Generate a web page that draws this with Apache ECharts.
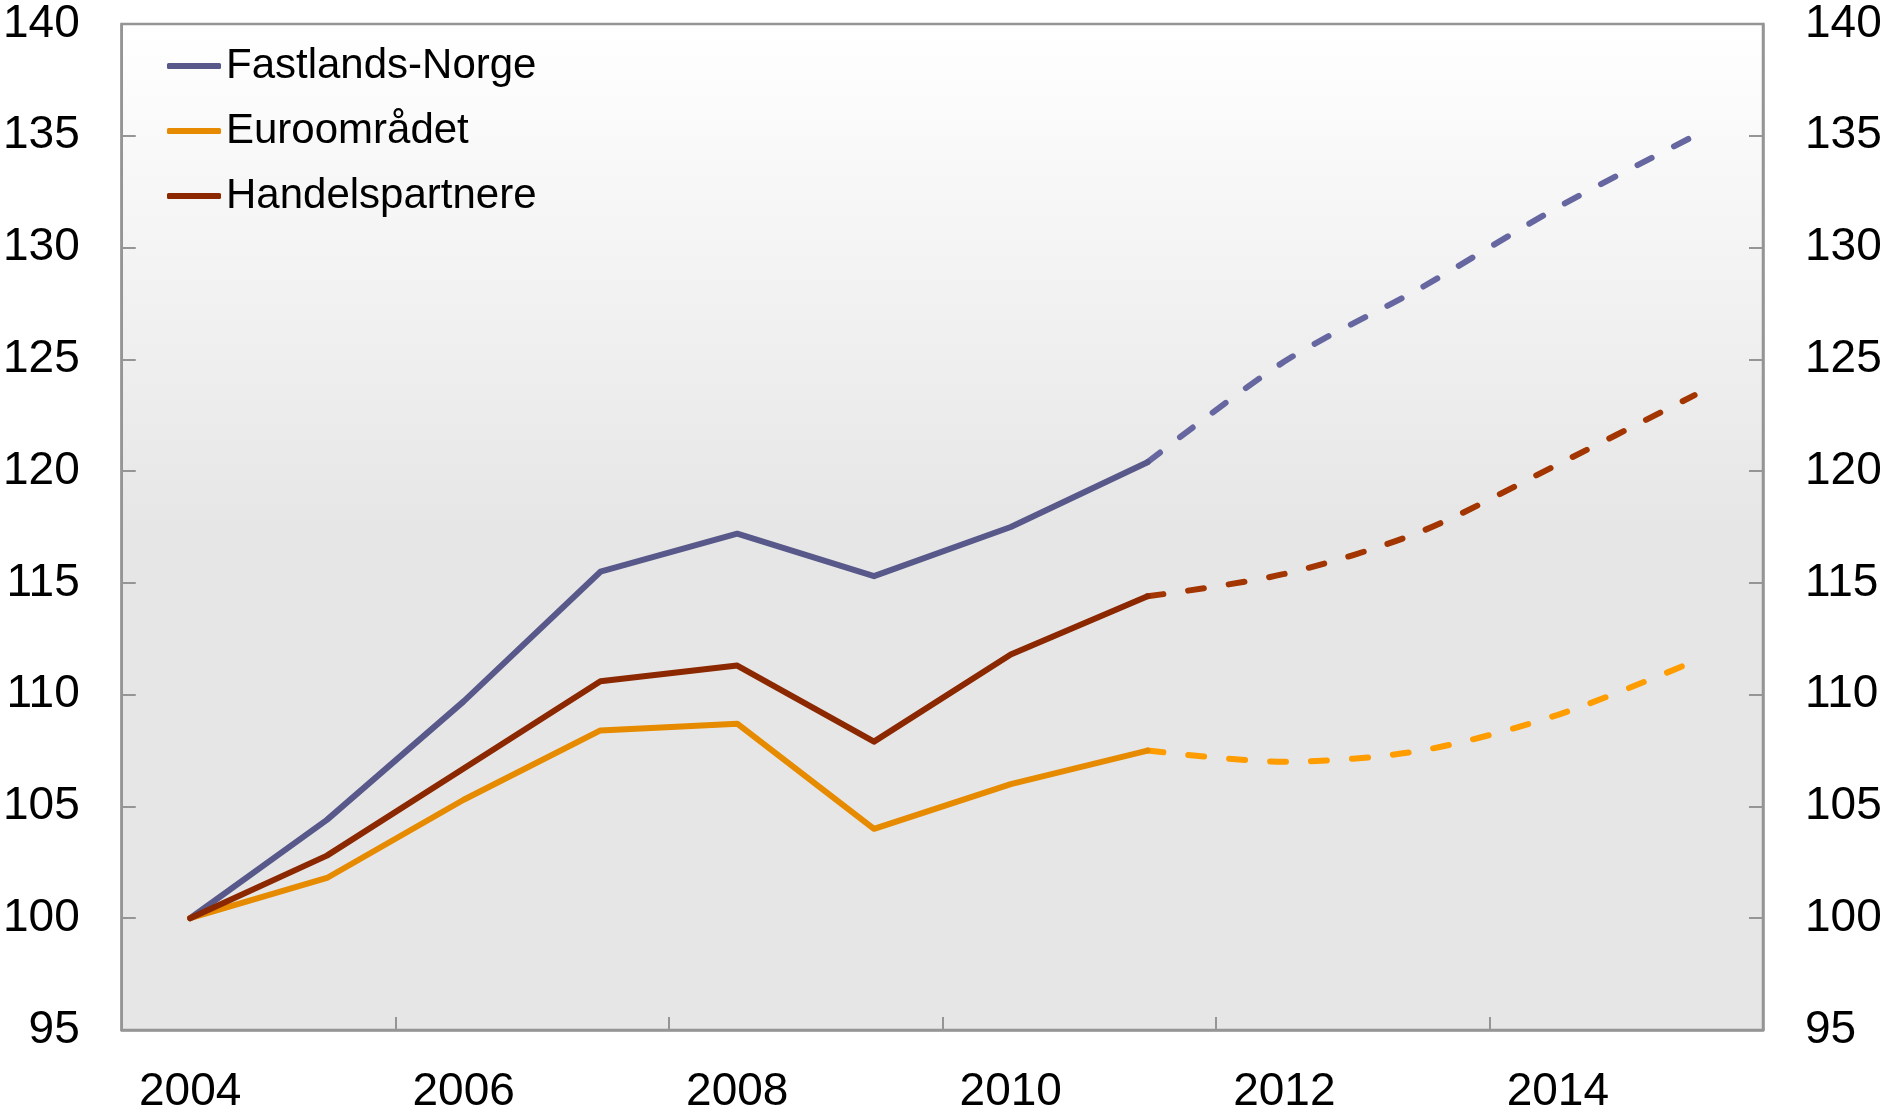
<!DOCTYPE html>
<html>
<head>
<meta charset="utf-8">
<script src="https://cdn.jsdelivr.net/npm/echarts@6/dist/echarts.min.js"></script>
<style>
  html, body { margin: 0; padding: 0; background: #fff; }
  #chart { width: 1893px; height: 1117px; }
</style>
</head>
<body>
<div id="chart"></div>
<script>
var years = ['2004', '2005', '2006', '2007', '2008', '2009', '2010', '2011', '2012', '2013', '2014', '2015'];

// faktiske tall (heltrukken)
var norge = [100, 104.4, 109.7, 115.5, 117.2, 115.3, 117.5, 120.4, null, null, null, null];
var euro = [100, 101.8, 105.3, 108.4, 108.7, 104.0, 106.0, 107.5, null, null, null, null];
var handel = [100, 102.8, 106.7, 110.6, 111.3, 107.9, 111.8, 114.4, null, null, null, null];

// anslag (stiplet)
var norgeAnslag = [null, null, null, null, null, null, null, 120.4, 124.9, 128.2, 131.8, 135.0];
var euroAnslag = [null, null, null, null, null, null, null, 107.5, 107.0, 107.5, 109.1, 111.5];
var handelAnslag = [null, null, null, null, null, null, null, 114.4, 115.4, 117.3, 120.3, 123.4];

var names = ['Fastlands-Norge', 'Euroområdet', 'Handelspartnere'];
var solidColors = ['#58588a', '#e68a00', '#8b2800'];
var dashColors = ['#6666a0', '#ff9c00', '#a33500'];

var font = '"Liberation Sans", Arial, sans-serif';
var axisGray = '#959595';

function solid(name, data, color) {
  return {
    name: name, type: 'line', data: data,
    symbol: 'none', smooth: false,
    lineStyle: { color: color, width: 6, cap: 'round', join: 'round' },
    itemStyle: { color: color },
    z: 3
  };
}
function dashed(name, data, color) {
  return {
    name: name + ' anslag', type: 'line', data: data,
    symbol: 'none', smooth: 0.3,
    lineStyle: { color: color, width: 6, type: [16, 25], cap: 'round' },
    itemStyle: { color: color },
    z: 2
  };
}

var chart = echarts.init(document.getElementById('chart'), null, { renderer: 'canvas' });

function yAxis(pos) {
  return {
    type: 'value', position: pos, min: 95, max: 140, interval: 5,
    axisLine: { show: true, lineStyle: { color: axisGray, width: 2.5 } },
    axisTick: { show: true, inside: true, length: 14, lineStyle: { color: axisGray, width: 2 } },
    axisLabel: { color: '#000', fontSize: 46, fontFamily: font, margin: 42 },
    splitLine: { show: false }
  };
}

chart.setOption({
  animation: false,
  textStyle: { fontFamily: font },
  grid: {
    left: 121, right: 130, top: 24, bottom: 87,
    show: true, borderColor: axisGray, borderWidth: 2.5,
    backgroundColor: {
      type: 'linear', x: 0, y: 0, x2: 0, y2: 1,
      colorStops: [
        { offset: 0, color: '#ffffff' },
        { offset: 0.5, color: '#e6e6e6' },
        { offset: 1, color: '#e6e6e6' }
      ]
    }
  },
  legend: {
    data: names,
    orient: 'vertical',
    left: 162, top: 40,
    itemWidth: 54, itemHeight: 6, itemGap: 23,
    icon: 'roundRect',
    textStyle: { color: '#000', fontSize: 42, fontFamily: font, lineHeight: 42 }
  },
  xAxis: {
    type: 'category', data: years, boundaryGap: true,
    axisLine: { show: true, lineStyle: { color: axisGray, width: 2.5 } },
    axisTick: { show: true, inside: true, length: 13, interval: 1, lineStyle: { color: axisGray, width: 2 } },
    axisLabel: { color: '#000', fontSize: 46, fontFamily: font, margin: 39, interval: 1 },
    splitLine: { show: false }
  },
  yAxis: [yAxis('left'), yAxis('right')],
  series: [
    solid(names[0], norge, solidColors[0]),
    solid(names[1], euro, solidColors[1]),
    solid(names[2], handel, solidColors[2]),
    dashed(names[0], norgeAnslag, dashColors[0]),
    dashed(names[1], euroAnslag, dashColors[1]),
    dashed(names[2], handelAnslag, dashColors[2])
  ]
});
</script>
</body>
</html>
